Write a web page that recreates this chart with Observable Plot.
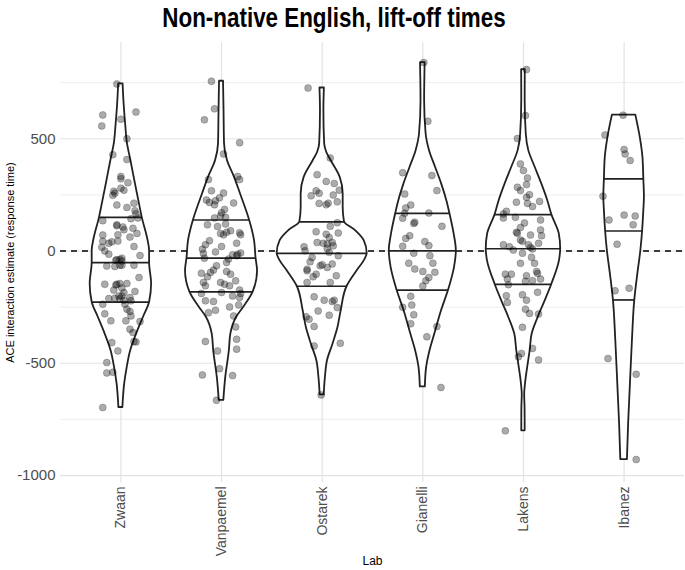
<!DOCTYPE html>
<html><head><meta charset="utf-8">
<script src="https://cdn.jsdelivr.net/npm/d3@7"></script>
<script src="https://cdn.jsdelivr.net/npm/@observablehq/plot@0.6"></script>
<style>body{margin:0;background:#fff} svg{display:block}</style>
</head><body><div id="chart"></div>
<script>
const labs = ["Zwaan", "Vanpaemel", "Ostarek", "Gianelli", "Lakens", "Ibanez"];
const title = "Non-native English, lift-off times";
const yLabel = "ACE interaction estimate (response time)";
const xLabel = "Lab";
const yMajorTicks = [-1000, -500, 0, 500];
const yMinorTicks = [-750, -250, 250, 750];

// violin outlines: [value, density (half width)]
const zwaanViolin = [[-697,2],[-592,3.8],[-519,6.3],[-444,9.8],[-369,15.8],[-296,22.5],[-228,28.7],[-147,30.7],[-52,28.7],[0,28.7],[50,27],[150,21.3],[200,19],[300,14.5],[403,10],[480,6.5],[551,5],[650,3.3],[744,2.2]];
const vanpaemelViolin = [[-665,2.3],[-564,4.2],[-445,7.8],[-370,9.3],[-296,15],[-252,22],[-182,31.7],[-88,36],[-32,34.5],[46,33],[138,28],[254,19],[328,13],[402,6],[477,3],[625,2.5],[756,2]];
const ostarekViolin = [[-641,2],[-560,3.3],[-489,5.3],[-415,10.8],[-341,15.8],[-266,19],[-157,25],[-88,35],[-44,42],[-11,45],[46,42],[90,33.6],[130,22.3],[194,21],[254,21],[328,18],[402,9],[440,4.5],[477,2.5],[625,1.7],[726,2.2]];
const gianelliViolin = [[-605,2.5],[-519,3.8],[-444,7.2],[-370,12],[-266,18.7],[-174,25.8],[-73,31.7],[1,33.5],[76,31.3],[168,27],[224,24],[299,18.8],[373,12.7],[447,6.7],[521,3.3],[670,1.8],[839,2.3]];
const lakensViolin = [[-801,1.7],[-700,1.6],[-640,1.2],[-593,2],[-519,4.2],[-444,6.7],[-370,8.7],[-296,14.7],[-222,21.7],[-149,28.3],[-43,36],[10,37.2],[76,35.8],[162,28.3],[224,24.3],[299,18.3],[373,11.7],[447,5.3],[521,2.8],[670,1.7],[808,1.8]];
const ibanezViolin = [[-929,3.3],[-771,4.5],[-623,6],[-400,8.3],[-218,10.7],[-103,13.7],[0,16.7],[89,18.5],[180,19.7],[239,20.3],[321,19.7],[418,18.8],[502,16.3],[605,11.7]];

// quartiles [25%, 50%, 75%]
const zwaanQuartiles = [-228, -52, 150];
const vanpaemelQuartiles = [-182, -32, 138];
const ostarekQuartiles = [-157, -11, 130];
const gianelliQuartiles = [-174, 1, 168];
const lakensQuartiles = [-149, 10, 162];
const ibanezQuartiles = [-218, 89, 321];

// jittered observations: [jitter offset, value]
const zwaanPoints = [[-0.04,744],[-0.18,606],[0.15,619],[-0.19,557],[0,587],[0.06,500],[-0.08,429],[0.06,407],[0,332],[0,322],[0.07,304],[0,280],[0.03,271],[-0.07,266],[-0.08,248],[-0.06,257],[-0.04,205],[0.06,194],[0.13,213],[0.14,179],[0.15,166],[0.1,144],[0.17,147],[-0.18,135],[-0.04,117],[-0.04,112],[0.02,107],[0.03,95],[0.12,101],[-0.18,71],[-0.03,72],[0.09,62],[0.16,78],[-0.18,43],[-0.12,34],[-0.09,41],[-0.03,44],[-0.19,17],[0.13,20],[-0.16,0],[-0.12,-14],[0.19,-20],[-0.05,-41],[-0.04,-39],[-0.01,-38],[0.01,-32],[0.01,-45],[-0.14,-67],[-0.06,-69],[-0.01,-63],[0.01,-64],[0.13,-63],[0.18,-118],[-0.16,-148],[-0.05,-151],[-0.04,-148],[-0.01,-145],[0.06,-145],[-0.07,-174],[0.01,-165],[0.03,-185],[0.14,-180],[-0.02,-200],[0.01,-200],[-0.12,-212],[-0.06,-210],[-0.01,-213],[0.09,-207],[0.1,-222],[0.03,-219],[-0.18,-237],[0.04,-237],[0.06,-259],[0.09,-269],[-0.16,-280],[0.1,-289],[-0.1,-311],[0.05,-311],[0.19,-314],[0.09,-348],[0.12,-363],[0.13,-403],[0.15,-405],[-0.09,-408],[-0.03,-445],[-0.14,-497],[-0.14,-543],[-0.08,-540],[-0.18,-697]];
const vanpaemelPoints = [[-0.1,756],[-0.07,633],[-0.17,584],[0.18,482],[0.02,432],[-0.13,318],[0.16,332],[0.18,318],[-0.1,268],[0.02,258],[-0.02,237],[-0.15,227],[-0.12,216],[-0.07,206],[-0.06,224],[0.12,214],[0.03,185],[0,170],[-0.01,157],[0.04,150],[-0.07,147],[-0.14,117],[-0.04,109],[0.04,120],[0.09,90],[-0.01,78],[0.02,72],[0.05,83],[0.18,81],[0.19,72],[-0.12,46],[-0.16,28],[0.15,35],[0,20],[-0.19,8],[-0.18,-11],[-0.06,-4],[0.11,-17],[0.16,-14],[0.19,-9],[-0.17,-32],[0.07,-36],[0.05,-51],[0.15,-21],[-0.05,-66],[-0.08,-85],[-0.2,-99],[-0.11,-96],[0.05,-91],[0.09,-103],[-0.14,-115],[-0.18,-140],[-0.16,-155],[0.14,-133],[-0.01,-140],[0.03,-148],[0.08,-155],[-0.2,-189],[0,-185],[0.11,-200],[0.18,-174],[0.19,-189],[0.18,-207],[-0.16,-222],[-0.08,-225],[0.17,-240],[0.08,-249],[-0.13,-275],[-0.06,-264],[0.12,-289],[0.14,-338],[-0.16,-403],[0.15,-393],[-0.04,-445],[0.15,-437],[-0.02,-524],[-0.19,-552],[0.11,-555],[-0.05,-665]];
const ostarekPoints = [[-0.14,726],[0.08,414],[-0.05,340],[0.04,310],[0.12,301],[-0.06,268],[0.17,271],[-0.11,246],[-0.03,257],[0.11,249],[-0.03,212],[0.04,206],[0.06,213],[0.15,219],[0.15,126],[0.08,110],[-0.06,86],[0.16,80],[0.04,75],[0.07,60],[-0.05,38],[0.01,34],[0.05,31],[0.1,38],[0.11,23],[-0.18,19],[-0.17,1],[0.05,11],[0.07,-6],[0.16,-21],[-0.1,-29],[-0.12,-48],[-0.02,-66],[0,-61],[0.05,-73],[0.1,-58],[-0.15,-81],[-0.15,-88],[-0.06,-103],[-0.09,-115],[0.14,-110],[-0.15,-140],[0.08,-140],[-0.08,-204],[0.02,-219],[0.1,-225],[0.12,-219],[0.15,-252],[-0.04,-267],[0.07,-286],[-0.16,-293],[-0.13,-304],[-0.08,-336],[-0.08,-423],[0.18,-411],[-0.01,-641]];
const gianelliPoints = [[0.01,839],[0.05,578],[-0.2,349],[0.09,336],[-0.18,254],[0.14,269],[-0.12,205],[-0.17,192],[-0.18,168],[0.06,169],[-0.2,146],[-0.09,123],[-0.08,128],[0.19,110],[-0.13,68],[-0.17,56],[0.02,42],[-0.2,21],[0.06,24],[-0.09,-10],[0.07,-21],[-0.14,-54],[0.1,-54],[-0.08,-80],[0,-91],[0.12,-95],[0.06,-118],[0.03,-132],[0,-156],[-0.12,-202],[-0.2,-251],[-0.11,-241],[-0.09,-284],[-0.12,-324],[0.14,-336],[0.04,-382],[0.18,-608]];
const lakensPoints = [[0.03,808],[0.02,603],[-0.06,501],[-0.03,388],[0,358],[0.04,325],[0.03,296],[-0.06,284],[-0.03,269],[0.06,251],[0.03,239],[-0.07,217],[0.16,221],[0.04,212],[0.09,198],[-0.17,177],[-0.2,165],[-0.2,147],[-0.08,150],[0.17,138],[0.01,125],[-0.03,105],[0.17,94],[-0.07,83],[-0.06,79],[0.07,71],[0.18,68],[-0.03,49],[-0.01,43],[0.15,34],[-0.2,28],[-0.14,19],[0.05,28],[0.07,16],[0.09,9],[-0.1,4],[-0.01,-10],[0.08,-28],[-0.03,-55],[0.11,-55],[0.13,-91],[0.14,-100],[-0.18,-103],[-0.12,-103],[0.03,-110],[-0.16,-125],[0.02,-135],[0.09,-132],[0.17,-125],[-0.15,-150],[0.14,-184],[-0.01,-195],[-0.17,-199],[0.03,-219],[-0.16,-229],[0.02,-259],[0.06,-278],[0.15,-281],[-0.01,-340],[0.09,-434],[-0.02,-456],[-0.05,-471],[0.15,-485],[-0.18,-801]];
const ibanezPoints = [[-0.01,605],[-0.19,517],[0,452],[0.01,432],[0.06,403],[-0.21,244],[-0.15,138],[0,160],[0.11,156],[0.09,117],[-0.07,30],[-0.09,-177],[0.05,-166],[-0.16,-479],[0.12,-549],[0.12,-929]];

const violins = [zwaanViolin, vanpaemelViolin, ostarekViolin, gianelliViolin, lakensViolin, ibanezViolin];
const quartiles = [zwaanQuartiles, vanpaemelQuartiles, ostarekQuartiles, gianelliQuartiles, lakensQuartiles, ibanezQuartiles];
const points = [zwaanPoints, vanpaemelPoints, ostarekPoints, gianelliPoints, lakensPoints, ibanezPoints];

const widthScale = 1 / 100.6; // density units -> category units

const violinRows = violins.flatMap((v, i) => v.map(([y, w]) => ({lab: labs[i], y, x1: i - w * widthScale, x2: i + w * widthScale})));
function halfWidthAt(v, y) {
  for (let k = 0; k < v.length - 1; k++) {
    const [y0, w0] = v[k], [y1, w1] = v[k + 1];
    if (y >= y0 && y <= y1) return w0 + (w1 - w0) * (y - y0) / (y1 - y0);
  }
  return 0;
}
const quartileRows = quartiles.flatMap((q, i) => q.map(y => {
  const w = halfWidthAt(violins[i], y) * widthScale;
  return {lab: labs[i], y, x1: i - w, x2: i + w};
}));
const pointRows = points.flatMap((p, i) => p.map(([dx, y]) => ({lab: labs[i], x: i + dx, y})));

const font = "'Liberation Sans', Arial, Helvetica, sans-serif";

const chart = Plot.plot({
  width: 685,
  height: 570,
  marginLeft: 60,
  marginRight: 1,
  marginTop: 42,
  marginBottom: 88,
  style: {fontFamily: font, fontSize: "15px", color: "#4d4d4d", background: "#fff"},
  x: {domain: [-0.6, 5.6], axis: null},
  y: {domain: [-1031, 928.6], axis: null},
  marks: [
    Plot.gridY({ticks: yMinorTicks, stroke: "#ebebeb", strokeOpacity: 1, strokeWidth: 0.9}),
    Plot.gridY({ticks: yMajorTicks, stroke: "#e3e3e3", strokeOpacity: 1, strokeWidth: 1.2}),
    Plot.gridX({ticks: d3.range(labs.length), stroke: "#e3e3e3", strokeOpacity: 1, strokeWidth: 1.2}),
    Plot.ruleY([0], {stroke: "#000", strokeWidth: 1.7, strokeDasharray: "6,5"}),
    Plot.areaX(violinRows, {y: "y", x1: "x1", x2: "x2", z: "lab", fill: "#fff", stroke: "#222", strokeWidth: 1.8, curve: "monotone-y"}),
    Plot.ruleY(quartileRows, {y: "y", x1: "x1", x2: "x2", stroke: "#222", strokeWidth: 1.7}),
    Plot.dot(pointRows, {x: "x", y: "y", r: 3.5, fill: "#000", fillOpacity: 0.33, stroke: "#000", strokeOpacity: 0.3, strokeWidth: 0.7}),
    Plot.axisY({ticks: yMajorTicks, tickFormat: d => String(d), tickSize: 0, tickPadding: 5, fontSize: 15, label: null, fill: "#4d4d4d"}),
    Plot.axisX({ticks: d3.range(labs.length), tickFormat: i => labs[i], tickRotate: -90, tickSize: 0, tickPadding: 4, fontSize: 14, label: null, fill: "#4d4d4d"}),
    Plot.text([xLabel], {frameAnchor: "bottom", dy: 82, fontSize: 12, fill: "#000"}),
    Plot.text([yLabel], {frameAnchor: "left", dx: -50, rotate: -90, textAnchor: "middle", fontSize: 11, fill: "#000"})
  ]
});
document.getElementById("chart").appendChild(chart);

// plot title, condensed like the reference
d3.select(chart).append("text")
  .attr("transform", "translate(334,27) scale(0.8,1)")
  .attr("text-anchor", "middle")
  .attr("font-family", font)
  .attr("font-size", 28)
  .attr("font-weight", "bold")
  .attr("fill", "#000")
  .text(title);
</script>
</body></html>
